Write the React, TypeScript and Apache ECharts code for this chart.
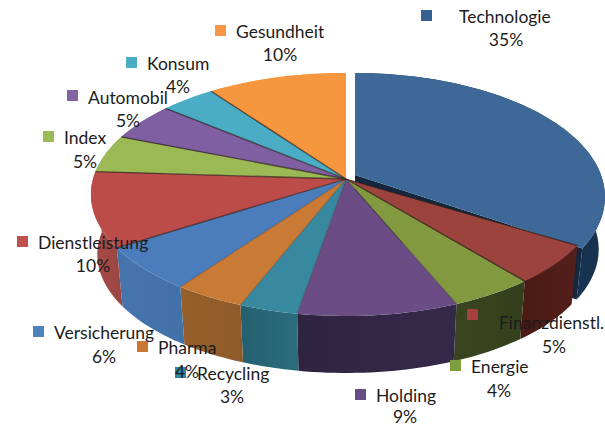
import React, { useEffect, useRef } from "react";
import * as echarts from "echarts";

// Clockwise from 12 o'clock
const categories = ["Technologie", "Finanzdienstl.", "Energie", "Holding", "Recycling", "Pharma", "Versicherung", "Dienstleistung", "Index", "Automobil", "Konsum", "Gesundheit"];
const percentLabels = ["35%", "5%", "4%", "9%", "3%", "4%", "6%", "10%", "5%", "5%", "4%", "10%"];
// slice shares as drawn in the picture (the printed labels are rounded)
const shares = [33.7, 5.3, 4.7, 9, 3.3, 4, 6, 10, 5, 5, 4, 10];

const topColors = ["#3d6898", "#9c433e", "#82993f", "#6b4c85", "#38899f", "#c97a35", "#4b7dbd", "#bb4c49", "#9bba55", "#7f5fa1", "#4aacc5", "#f6963f"];
const wallColors = [
  ["#1c3a5c", "#17324f"], ["#4a1a15", "#551f1a"], ["#3a4420", "#34401d"], ["#2f2440", "#35294a"],
  ["#24606f", "#2b6d7e"], ["#96602c", "#8f5a2a"], ["#4675ad", "#4270a8"], ["#a84a47", "#9a4643"],
  ["#9bba55", "#9bba55"], ["#7f5fa1", "#7f5fa1"], ["#4aacc5", "#4aacc5"], ["#f6963f", "#f6963f"],
];
const markerColors = ["#376092", "#a5403c", "#7f9f3f", "#664e85", "#31859c", "#c97833", "#4f81bd", "#c0504d", "#9bbb59", "#8064a2", "#4bacc6", "#f79646"];

// marker x,y / name left x, name centre y / percent centre x, centre y
const labelLayout = [
  [421, 10, 459, 16, 506, 39],
  [467, 309, 499, 322, 554, 346],
  [450, 360, 471, 366, 499, 390],
  [355, 389, 376, 395, 405, 416],
  [175, 367, 197, 373, 232, 396],
  [137, 341, 158, 347, 187, 371],
  [33, 326, 54, 332, 104, 356],
  [17, 236, 38, 242, 93, 265],
  [43, 131, 64, 137, 85, 161],
  [67, 90, 88, 97, 128, 120],
  [126, 57, 147, 63, 178, 86],
  [215, 25, 236, 31, 280, 54],
];

// perspective disc of the main pie, and of the pulled-out slice
const MAIN = { cx: 346, cy: 179, rx: 253, ry: 119.6, k: 0.127, bottomCy: 239.4, bottomScale: 0.975 };
const PULLED = { cx: 355, cy: 175, rx: 246, ry: 120, k: 0.177, bottomCy: 228, bottomScale: 0.975 };
const PULLED_EXTRA_SWEEP = 2.2; // the pulled slice appears wider in perspective

const total = shares.reduce((a, b) => a + b, 0);
const startAngles: number[] = [];
shares.reduce((acc, s) => {
  startAngles.push((acc / total) * 360);
  return acc + s;
}, 0);

function pt(deg: number, bottom: boolean, d: typeof MAIN) {
  const r = (deg * Math.PI) / 180;
  const u = Math.sin(r), v = -Math.cos(r);
  const s = 1 / (1 - d.k * v);
  const f = bottom ? d.bottomScale : 1;
  return [d.cx + d.rx * u * s * f, (bottom ? d.bottomCy : d.cy) + d.ry * v * s * f];
}
function arc(a0: number, a1: number, bottom: boolean, d: typeof MAIN) {
  const n = Math.max(2, Math.ceil((a1 - a0) / 1.5));
  const out: number[][] = [];
  for (let i = 0; i <= n; i++) out.push(pt(a0 + ((a1 - a0) * i) / n, bottom, d));
  return out;
}
const discOf = (i: number) => (i === 0 ? PULLED : MAIN);
const range = (i: number) => [
  startAngles[i],
  startAngles[i] + (shares[i] / total) * 360 + (i === 0 ? PULLED_EXTRA_SWEEP : 0),
];

const renderWall = (params: any) => {
  const i = params.dataIndex;
  const [a0, a1] = range(i);
  const d = discOf(i);
  const children: any[] = [];
  if (i === 0) {
    const t = pt(a1, false, d), b = pt(a1, true, d);
    children.push({
      type: "polygon",
      shape: { points: [[d.cx, d.cy], t, b, [d.cx, d.bottomCy]] },
      style: { fill: "#14273f" },
    });
  }
  children.push({
    type: "polygon",
    shape: { points: [...arc(a0, a1, false, d), ...arc(a0, a1, true, d).reverse()] },
    style: {
      fill: new echarts.graphic.LinearGradient(0, 0, 1, 0, [
        { offset: 0, color: wallColors[i][0] },
        { offset: 1, color: wallColors[i][1] },
      ]),
    },
  });
  return { type: "group", children };
};

const renderTop = (params: any) => {
  const i = params.dataIndex;
  const [a0, a1] = range(i);
  const d = discOf(i);
  const apex = [d.cx, d.cy];
  const children: any[] = [
    {
      type: "polygon",
      shape: { points: [apex, ...arc(a0, a1, false, d)] },
      style: { fill: topColors[i] },
    },
  ];
  if (i > 0) {
    const e = pt(a0, false, d);
    const strength = i === 5 || i === 6 ? 0.3 : i === 4 || i === 3 ? 0.35 : 0.7;
    children.push({
      type: "line",
      shape: { x1: apex[0], y1: apex[1], x2: e[0], y2: e[1] },
      style: { stroke: `rgba(45,30,25,${strength})`, lineWidth: 1.3 },
    });
  }
  return { type: "group", children };
};

const TEXT_COLOR = "#1c1c1c";
const FONT = '17.5px Lato, "Open Sans", sans-serif';

function labelElements() {
  const els: any[] = [];
  categories.forEach((name, i) => {
    const [mx, my, nx, ny, px, py] = labelLayout[i];
    els.push({ type: "rect", z: 10, shape: { x: mx, y: my, width: 11, height: 11 }, style: { fill: markerColors[i] } });
    els.push({ type: "text", z: 11, x: nx, y: ny, style: { text: name, font: FONT, fill: TEXT_COLOR, textAlign: "left", textVerticalAlign: "middle" } });
    els.push({ type: "text", z: 11, x: px, y: py, style: { text: percentLabels[i], font: FONT, fill: TEXT_COLOR, textAlign: "center", textVerticalAlign: "middle" } });
  });
  return els;
}

export default function App() {
  const ref = useRef<HTMLDivElement>(null);
  useEffect(() => {
    const chart = echarts.init(ref.current!, null, { renderer: "svg" });
    const data = shares.map((v, i) => ({ name: categories[i], value: v }));
    chart.setOption({
      animation: false,
      backgroundColor: "#ffffff",
      series: [
        { type: "custom", name: "walls", coordinateSystem: "none", renderItem: renderWall, data, z: 1, silent: true },
        { type: "custom", name: "tops", coordinateSystem: "none", renderItem: renderTop, data, z: 2, silent: true },
      ],
      graphic: { elements: labelElements() },
    });
    return () => chart.dispose();
  }, []);
  return <div ref={ref} style={{ position: "fixed", left: 0, top: 0, width: 605, height: 427 }} />;
}
